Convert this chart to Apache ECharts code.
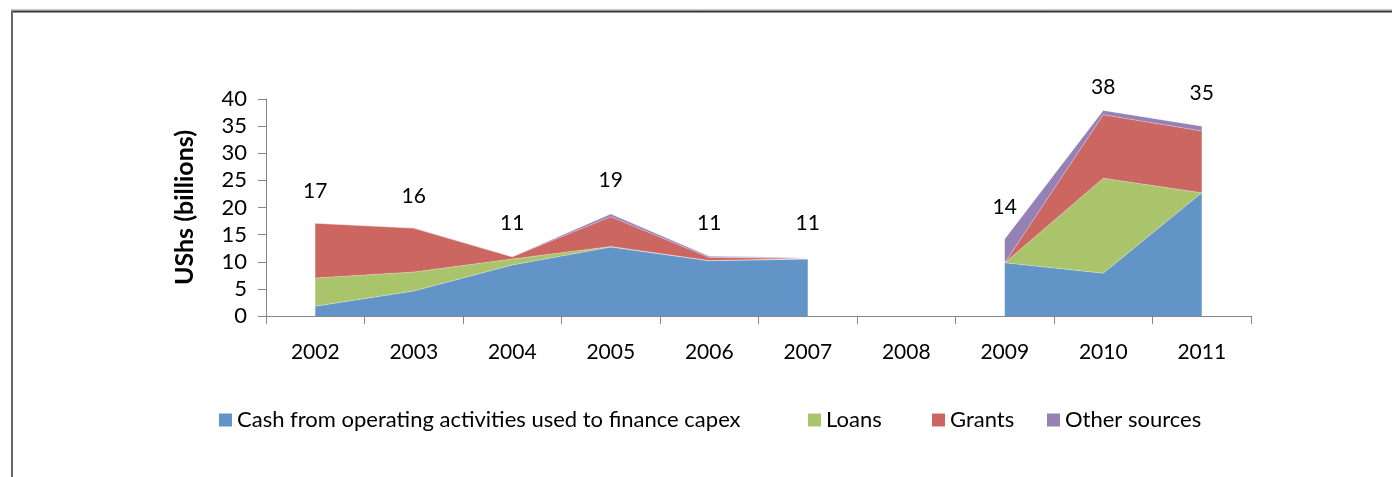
<!DOCTYPE html>
<html>
<head>
<meta charset="utf-8">
<script src="https://cdn.jsdelivr.net/npm/echarts@6/dist/echarts.min.js"></script>
<style>
  html, body { margin: 0; padding: 0; background: #fff; }
  #chart { width: 1392px; height: 477px; }
</style>
</head>
<body>
<div id="chart"></div>
<script>
// Capex financing sources, UShs billions (2008 has no data)
const years = ['2002', '2003', '2004', '2005', '2006', '2007', '2008', '2009', '2010', '2011'];
const cashFromOperations = [1.8, 4.6, 9.4, 12.7, 10.2, 10.5, null, 9.8, 7.9, 22.7];
const loans             = [5.2, 3.5, 1.1, 0.1, 0.0, 0.0, null, 0.0, 17.5, 0.0];
const grants            = [10.1, 8.1, 0.4, 5.5, 0.6, 0.1, null, 0.0, 11.7, 11.4];
const otherSources      = [0.0, 0.0, 0.0, 0.5, 0.2, 0.2, null, 4.4, 0.8, 0.9];
const totals            = [17, 16, 11, 19, 11, 11, null, 14, 38, 35];
const yTicks = { min: 0, max: 40, step: 5 };

const FONT = 'Lato, "Liberation Sans", sans-serif';
const colors = ['#6394C8', '#AAC46C', '#CC6660', '#9681B5'];
const seriesNames = ['Cash from operating activities used to finance capex', 'Loans', 'Grants', 'Other sources'];
const seriesData = [cashFromOperations, loans, grants, otherSources];

const chart = echarts.init(document.getElementById('chart'), null, { renderer: 'canvas' });

const areaSeries = seriesData.map((d, i) => ({
  name: seriesNames[i],
  type: 'line',
  stack: 'total',
  data: d,
  symbol: 'none',
  connectNulls: false,
  lineStyle: { width: 0.6, color: 'rgba(255,255,255,0.5)' },
  areaStyle: { color: colors[i], opacity: 1 },
  itemStyle: { color: colors[i] },
  z: 2
}));

const legendLefts = [214, 803, 927, 1042];

const option = {
  animation: false,
  backgroundColor: '#fff',
  color: colors,
  grid: { left: 266, right: 141, top: 99, bottom: 161, containLabel: false },
  legend: seriesNames.map((n, i) => ({
    data: [n],
    left: legendLefts[i],
    top: 404,
    icon: 'rect',
    itemWidth: 13,
    itemHeight: 13,
    itemGap: 5,
    textStyle: { fontFamily: FONT, fontSize: 22, color: '#000' },
    selectedMode: false
  })),
  xAxis: {
    type: 'category',
    data: years,
    boundaryGap: true,
    axisLine: { lineStyle: { color: '#868686', width: 1 } },
    axisTick: { show: true, interval: 0, length: 8, lineStyle: { color: '#868686' } },
    axisLabel: { interval: 0, margin: 26, fontFamily: FONT, fontSize: 21, color: '#000' },
    splitLine: { show: false }
  },
  yAxis: {
    type: 'value',
    min: yTicks.min,
    max: yTicks.max,
    interval: yTicks.step,
    name: 'UShs (billions)',
    nameLocation: 'middle',
    nameGap: 69,
    nameTextStyle: { fontFamily: FONT, fontSize: 25, fontWeight: 'bold', color: '#000' },
    axisLine: { show: true, lineStyle: { color: '#868686', width: 1 } },
    axisTick: { show: true, length: 8, lineStyle: { color: '#868686' } },
    axisLabel: { margin: 19, fontFamily: FONT, fontSize: 22, color: '#000' },
    splitLine: { show: false }
  },
  series: areaSeries.concat([{
    name: 'Total',
    type: 'line',
    data: totals.map((v, i) => (i === 8 ? { value: v, label: { distance: 12 } } : v)),
    symbol: 'circle',
    symbolSize: 1,
    showSymbol: true,
    itemStyle: { color: 'rgba(0,0,0,0)' },
    lineStyle: { width: 0, opacity: 0 },
    silent: true,
    z: 3,
    label: {
      show: true,
      position: 'top',
      distance: 22,
      fontFamily: FONT,
      fontSize: 21,
      color: '#000'
    }
  }]),
  graphic: [
    { type: 'line', shape: { x1: 11, y1: 9.5, x2: 1392, y2: 9.5 }, style: { stroke: '#c8c8c8', lineWidth: 1 } },
    { type: 'line', shape: { x1: 11, y1: 11.5, x2: 1392, y2: 11.5 }, style: { stroke: '#333', lineWidth: 2 } },
    { type: 'line', shape: { x1: 12, y1: 11, x2: 12, y2: 477 }, style: { stroke: '#666', lineWidth: 2 } }
  ]
};

chart.setOption(option);
</script>
</body>
</html>
